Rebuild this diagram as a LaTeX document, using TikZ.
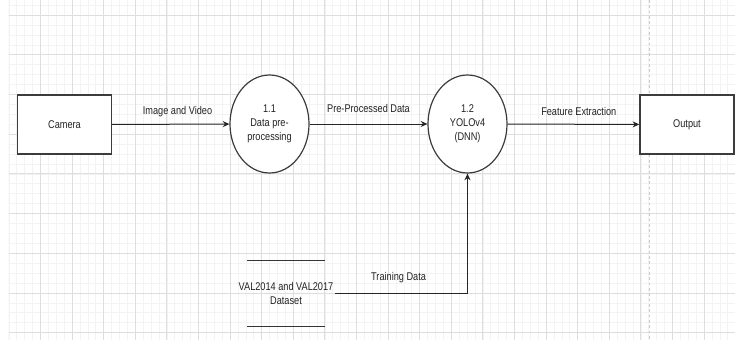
\documentclass[tikz,border=0pt]{standalone}
\usepackage{fontspec}
\setmainfont{Liberation Sans}[FakeStretch=0.82]
\usetikzlibrary{positioning,calc,arrows.meta,shapes.geometric}
\definecolor{GridMajor}{RGB}{222,222,222}
\definecolor{GridMinor}{RGB}{243,243,243}
\definecolor{PageLine}{RGB}{200,200,200}
\definecolor{InkGray}{RGB}{60,60,60}
\definecolor{TextGray}{RGB}{35,35,35}
\tikzset{
  ext/.style={rectangle,draw=InkGray,fill=white,line width=1.1pt,
    minimum width=70.5pt,minimum height=44.25pt,inner sep=0pt,font=\fontsize{8.4}{10.5}\selectfont,text=TextGray},
  proc/.style={ellipse,draw=InkGray,fill=white,line width=0.9pt,
    minimum width=59.25pt,minimum height=73.5pt,inner sep=0pt,align=center,
    font=\fontsize{8.4}{10.5}\selectfont,text=TextGray},
  store/.style={inner sep=1pt,align=center,font=\fontsize{8.4}{10.5}\selectfont,text=TextGray},
  flow/.style={draw=black!85,line width=0.75pt,-{Stealth[length=5pt,width=4.5pt]}},
  lbl/.style={inner sep=0pt,font=\fontsize{8.4}{10.5}\selectfont,text=TextGray},
}
\tikzset{storeline/.style={draw=black!80,line width=0.75pt}}

\begin{document}
\begin{tikzpicture}[x=0.75pt,y=-0.75pt]
\useasboundingbox (0,0) rectangle (735,340);
\fill[white] (0,0) rectangle (735,340);
% background grid
\begin{scope}
\clip (8.8,0) rectangle (735,340);
\foreach \k in {0,...,92} \draw[GridMinor,line width=0.4pt] ({8.8+7.9*\k},0) -- ({8.8+7.9*\k},340);
\foreach \k in {-1,...,33} \draw[GridMinor,line width=0.4pt] (0,{15+9.925*\k}) -- (735,{15+9.925*\k});
\foreach \k in {0,...,23} \draw[GridMajor,line width=0.6pt] ({8.8+31.6*\k},0) -- ({8.8+31.6*\k},340);
\foreach \k in {-1,...,8} \draw[GridMajor,line width=0.6pt] (0,{15+39.7*\k}) -- (735,{15+39.7*\k});
\end{scope}
\draw[PageLine,line width=0.6pt,dash pattern=on 2pt off 2pt] (649,0) -- (649,340);

% processes and entities
\node[ext] (camera) at (64.5,124.5) {Camera};
\node[proc] (prep) at (269.5,124) {1.1\\Data pre-\\processing};
\node[proc] (yolo) at (467.5,124) {1.2\\YOLOv4\\(DNN)};
\node[ext] (output) at (687,124.5) {Output};

% data store
\node[store] (dataset) at (286,293) {VAL2014 and VAL2017\\Dataset};
\coordinate (stl) at (247,260);
\coordinate (str) at (325,260);
\coordinate (sbl) at (247,326);
\coordinate (sbr) at (325,326);
\draw[storeline] (stl)--(str);
\draw[storeline] (sbl)--(sbr);

% flows
\draw[flow] (camera) -- node[lbl,above=5pt,xshift=5pt] {Image and Video} (prep);
\draw[flow] (prep) -- node[lbl,above=8pt] {Pre-Processed Data} (yolo);
\draw[flow] (yolo) -- node[lbl,above=6pt,xshift=4pt] {Feature Extraction} (output);
\draw[flow] (dataset.east) -| node[lbl,pos=0.24,above=7pt] {Training Data} (yolo.south);
\end{tikzpicture}
\end{document}
